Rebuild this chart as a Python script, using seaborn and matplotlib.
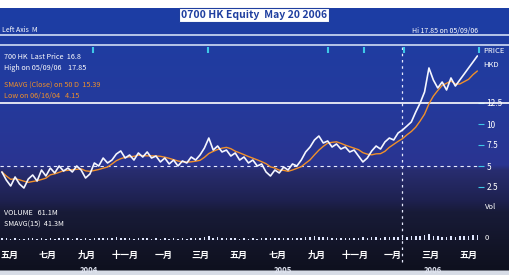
import numpy as np
import pandas as pd
import matplotlib
matplotlib.use("Agg")
import matplotlib.pyplot as plt
import matplotlib.transforms as mtransforms
import seaborn as sns

# weekly closing prices (HKD)
start_date = "2004-04-19"
prices = [4.29, 3.33, 2.62, 3.69, 2.86, 2.38, 3.45, 3.93, 3.21, 4.52,
          3.81, 4.76, 4.17, 5.00, 4.40, 4.76, 4.29, 5.00, 4.52, 3.57,
          4.05, 5.36, 5.00, 5.95, 5.36, 5.71, 6.43, 6.79, 5.95, 6.31,
          5.71, 6.55, 6.07, 6.67, 5.95, 6.19, 5.48, 5.95, 5.24, 5.71,
          5.00, 5.60, 5.36, 6.07, 5.71, 6.31, 7.14, 8.33, 6.90, 7.38,
          6.67, 6.90, 6.19, 6.55, 5.71, 6.07, 5.36, 5.71, 5.00, 5.24,
          4.29, 3.81, 4.52, 4.17, 4.88, 4.52, 5.24, 5.00, 5.71, 6.67,
          7.26, 8.10, 8.57, 7.74, 7.98, 7.26, 7.62, 7.02, 7.26, 6.67,
          6.90, 6.19, 5.48, 5.95, 6.79, 7.38, 7.02, 7.86, 8.33, 8.10,
          8.93, 9.29, 9.76, 10.24, 11.43, 12.50, 13.81, 16.67, 15.24, 14.29,
          15.00, 14.05, 15.48, 14.52, 15.24, 15.95, 16.67, 17.38, 18.10]
# weekly volume (millions)
volume = [30, 22, 18, 25, 20, 15, 28, 22, 18, 26,
          20, 24, 18, 30, 22, 25, 20, 28, 18, 24,
          20, 32, 26, 35, 22, 28, 40, 30, 22, 26,
          20, 30, 24, 28, 20, 22, 18, 24, 20, 22,
          18, 24, 20, 26, 22, 30, 45, 60, 35, 40,
          30, 28, 24, 26, 20, 22, 18, 22, 20, 24,
          28, 30, 24, 22, 26, 24, 28, 30, 35, 45,
          50, 55, 48, 40, 38, 32, 35, 30, 28, 26,
          30, 34, 40, 32, 36, 40, 35, 42, 45, 40,
          48, 45, 50, 55, 60, 58, 65, 80, 60, 55,
          50, 48, 55, 50, 52, 58, 60, 65, 70]

tick_dates = ["2004-05-01", "2004-07-01", "2004-09-01", "2004-11-01",
              "2005-01-01", "2005-03-01", "2005-05-01", "2005-07-01",
              "2005-09-01", "2005-11-01", "2006-01-01", "2006-03-01",
              "2006-05-01"]
tick_labels = ["五月", "七月", "九月", "十一月", "一月", "三月", "五月",
               "七月", "九月", "十一月", "一月", "三月", "五月"]
year_dates = ["2004-09-05", "2005-07-10", "2006-03-05"]
year_labels = ["2004", "2005", "2006"]
event_dates = ["2004-09-11", "2005-03-12", "2005-09-19", "2005-11-16",
               "2006-01-19", "2006-05-17"]
price_ticks = [2.5, 5, 7.5, 10, 12.5]

df = pd.DataFrame({
    "date": pd.date_range(start_date, periods=len(prices), freq="7D"),
    "price": prices,
    "volume": volume,
})
df["ma"] = df["price"].rolling(6, min_periods=1).mean()

sns.set_style("white")
plt.rcParams["font.family"] = ["Noto Sans CJK SC", "DejaVu Sans"]

W, H = 510, 275
fig = plt.figure(figsize=(W / 100, H / 100), dpi=100)

# background gradient
stops_y = [0, 8, 8.5, 100, 165, 170, 200, 212, 250, 270, 271, 275]
stops_c = np.array([
    (255, 255, 255), (255, 255, 255), (28, 62, 165), (36, 58, 156),
    (42, 52, 145), (40, 45, 112), (30, 33, 80), (24, 27, 56),
    (18, 20, 38), (14, 16, 30), (215, 220, 230), (215, 220, 230)]) / 255
yy = np.arange(H) + 0.5
grad = np.stack([np.interp(yy, stops_y, stops_c[:, k]) for k in range(3)], axis=-1)
bg = fig.add_axes([0, 0, 1, 1], zorder=-10)
bg.imshow(grad[:, None, :], aspect="auto", extent=[0, 1, 0, 1], origin="upper")
bg.axis("off")

def fy(py):
    return 1 - py / H

ax_left, ax_right, ax_top, ax_bot = 0, 478, 45, 240
ax = fig.add_axes([ax_left / W, fy(ax_bot), (ax_right - ax_left) / W,
                   (ax_bot - ax_top) / H])
ax.set_facecolor("none")
ax.set_xlim(pd.Timestamp("2004-04-16"), pd.Timestamp("2006-05-16"))
ax.set_ylim(5 + (166 - ax_bot) / 8.4, 5 + (166 - ax_top) / 8.4)
for s in ax.spines.values():
    s.set_visible(False)

# volume on a twin axis, small bars at the bottom
ax2 = ax.twinx()
ax2.set_ylim(0, max(volume) * 35)
ax2.bar(df["date"], df["volume"], width=2.5, color="#dfe6ff", linewidth=0)
ax2.axhline(0, color="#cfd8f0", lw=0.8)
ax2.set_yticks([])
for s in ax2.spines.values():
    s.set_visible(False)

sns.lineplot(data=df, x="date", y="ma", ax=ax, color="#f0902a", lw=1.0, zorder=3)
sns.lineplot(data=df, x="date", y="price", ax=ax, color="#f4f6ff", lw=1.2, zorder=4)
ax.set_zorder(ax2.get_zorder() + 1)

ax.axhline(5, color="#e8ecff", lw=0.8, ls=(0, (3, 3)))
ax.axhline(12.5, xmin=0, xmax=W / ax_right, color="white", lw=1.2, clip_on=False)
ax.axvline(pd.Timestamp("2006-01-15"), ymin=-22 / 195, ymax=1,
           color="#e8ecff", lw=0.9, ls=(0, (2, 3)), clip_on=False)

trans = mtransforms.blended_transform_factory(ax.transData, ax.transAxes)
ax.scatter(pd.to_datetime(event_dates), [0.975] * len(event_dates),
           transform=trans, marker="|", s=14, color="#3fc8e8", clip_on=False, zorder=5)

# axes labels
ax.set_xlabel("")
ax.set_ylabel("")
ax.set_xticks(pd.to_datetime(tick_dates))
ax.set_xticklabels(tick_labels, color="white", fontsize=6.5, fontweight="bold")
ax.tick_params(axis="x", length=0, pad=8)
ax.yaxis.tick_right()
ax.set_yticks(price_ticks)
ax.set_yticklabels([f"{t:g}" for t in price_ticks], color="white", fontsize=6)
ax.tick_params(axis="y", length=4, color="#3fc8e8", pad=2)
for d, lab in zip(year_dates, year_labels):
    ax.text(pd.Timestamp(d), -0.155, lab, transform=trans, ha="center",
            va="center", color="#e0e4f0", fontsize=5.5, fontweight="bold")

# header lines
for py in (35, 45):
    fig.add_artist(plt.Line2D([0, 1], [fy(py)] * 2, color="#d0dcf4", lw=1.2))

fig.text(254 / W, fy(15), "0700 HK Equity  May 20 2006", ha="center", va="center",
         color="#1f3fa0", fontsize=7.5, fontweight="bold",
         bbox=dict(facecolor="white", edgecolor="#1f3fa0", pad=1.5, lw=0.8))
fig.text(2 / W, fy(30), "Left Axis  M", color="white", fontsize=5, va="center")
fig.text(478 / W, fy(31), "Hi 17.85 on 05/09/06", color="white", fontsize=5,
         va="center", ha="right")

fig.text(4 / W, fy(57), "700 HK  Last Price  16.8", color="white", fontsize=5.2, va="center")
fig.text(4 / W, fy(68), "High on 05/09/06    17.85", color="white", fontsize=5.2, va="center")
fig.text(4 / W, fy(85), "SMAVG (Close) on 50 D  15.39", color="#f0902a", fontsize=5.2, va="center")
fig.text(4 / W, fy(96), "Low on 06/16/04   4.15", color="#f0902a", fontsize=5.2, va="center")
fig.text(4 / W, fy(213), "VOLUME   61.1M", color="white", fontsize=5.2, va="center")
fig.text(4 / W, fy(225), "SMAVG(15)  41.3M", color="white", fontsize=5.2, va="center")

fig.text(483 / W, fy(51), "PRICE", color="white", fontsize=5.5, va="center")
fig.text(483 / W, fy(65), "HKD", color="white", fontsize=5.5, va="center")
fig.text(485 / W, fy(207), "Vol", color="white", fontsize=5.5, va="center")
fig.text(485 / W, fy(238), "0", color="white", fontsize=5.5, va="center")

fig.savefig("out.png", dpi=100)
plt.close(fig)
